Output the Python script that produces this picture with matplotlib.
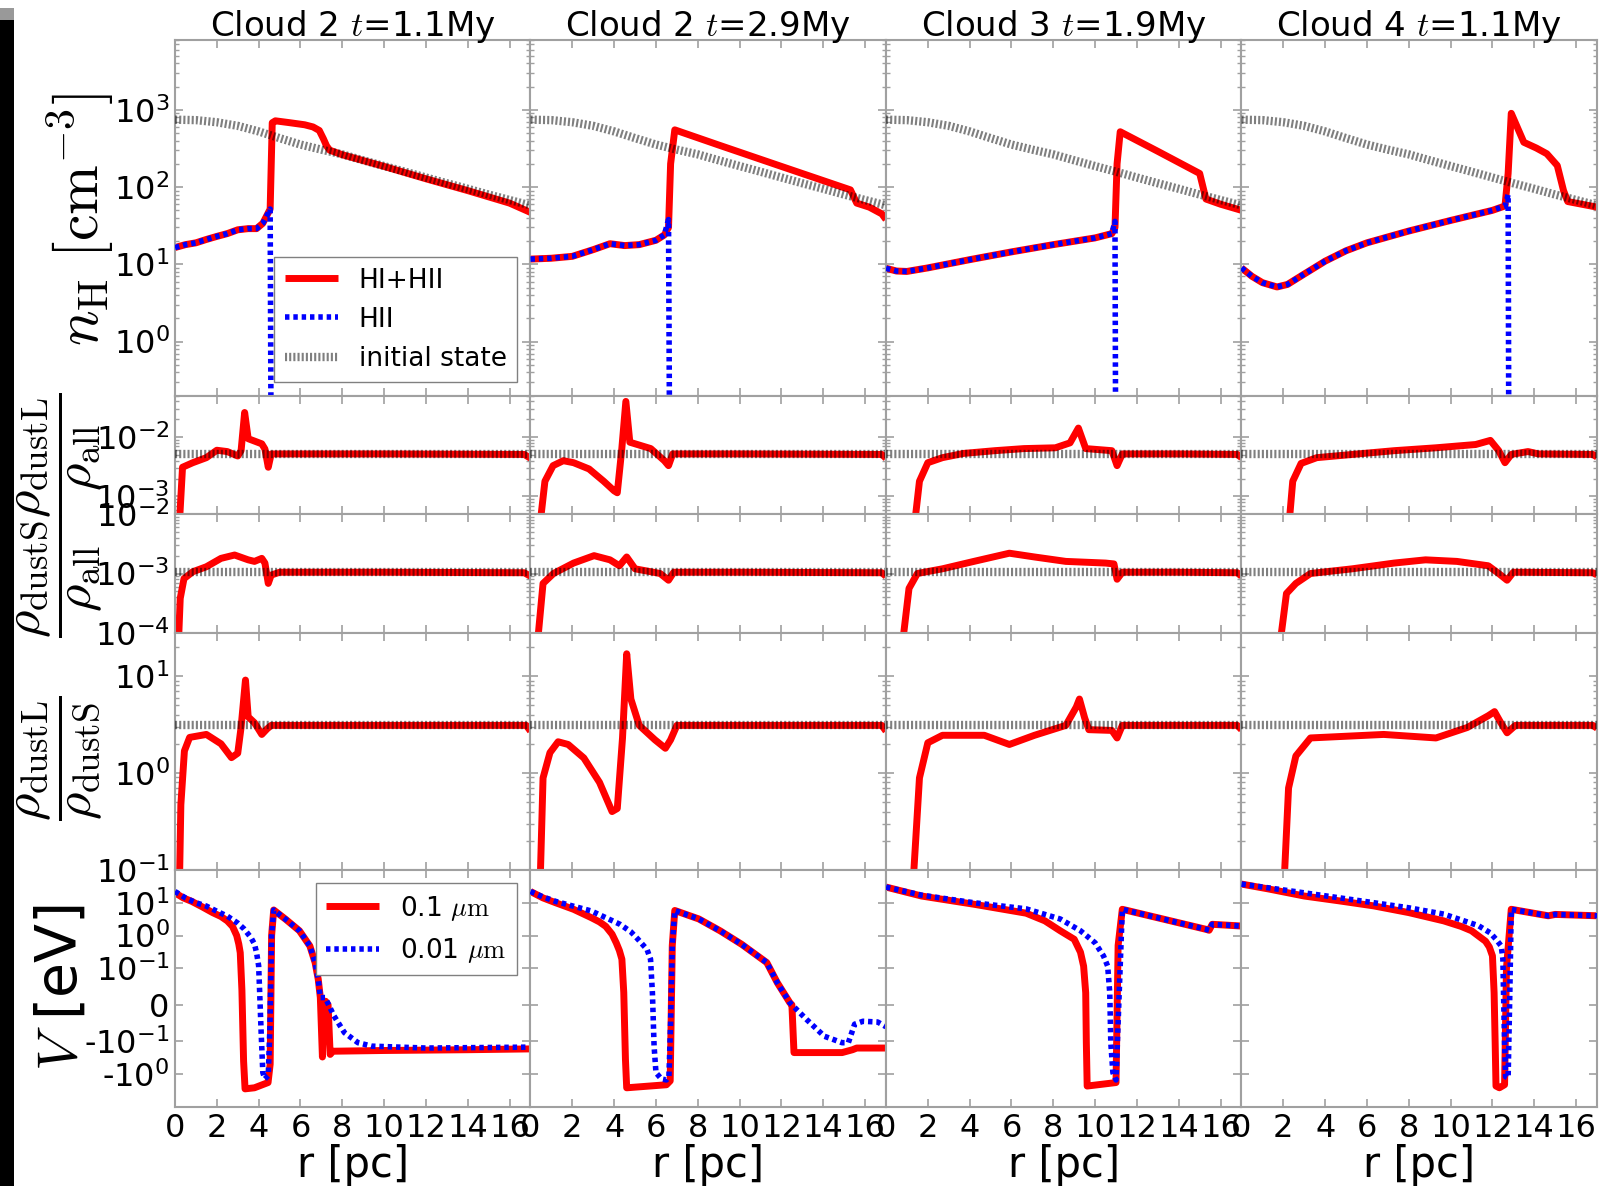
import numpy as np
import matplotlib
matplotlib.use('Agg')
import matplotlib.pyplot as plt
from matplotlib.ticker import FixedLocator, NullLocator, FuncFormatter, FixedFormatter, NullFormatter
from matplotlib.patches import Rectangle

# ---------------- data ----------------
titles = ['Cloud 2 $t$=1.1My', 'Cloud 2 $t$=2.9My', 'Cloud 3 $t$=1.9My', 'Cloud 4 $t$=1.1My']
x_ticks = [0, 2, 4, 6, 8, 10, 12, 14, 16]

# initial-state density profile (same for all panels)
r_init = [0, 1, 2, 3, 4, 5, 6, 7, 8, 9, 10, 11, 12, 13, 14, 15, 16, 17]
nH_init = [745, 735, 690, 620, 525, 430, 355, 305, 265, 222, 187, 158, 133, 112, 95, 80, 68, 58]
L_init = 5.2e-3
S_init = 1.05e-3
R_init = 3.1

# ---- column 1 : Cloud 2, t = 1.1 My
r_nH_c1 = [0, 0.5, 1.0, 1.5, 2.0, 2.5, 3.0, 3.5, 3.9, 4.2, 4.45, 4.55, 4.65, 4.8, 5.5, 6.2, 6.6, 6.9, 7.1, 7.25, 7.4, 8, 10, 12, 14, 16, 17]
nH_c1 = [16.5, 18, 19, 21, 23, 25, 28, 29, 29, 34, 46, 52, 680, 720, 680, 640, 600, 540, 420, 340, 300, 262, 185, 128, 90, 62, 47]
r_HII_c1 = [0, 0.5, 1.0, 1.5, 2.0, 2.5, 3.0, 3.5, 3.9, 4.2, 4.45, 4.55, 4.62, 17]
HII_c1 = [16.5, 18, 19, 21, 23, 25, 28, 29, 29, 34, 46, 52, 1e-3, 1e-3]
r_L_c1 = [0.2, 0.36, 0.85, 1.5, 2.0, 2.5, 3.0, 3.16, 3.33, 3.5, 4.15, 4.3, 4.46, 4.6, 5.0, 10, 16.7, 17]
L_c1 = [3e-4, 3.1e-3, 3.7e-3, 4.5e-3, 6.0e-3, 5.7e-3, 4.8e-3, 5.9e-3, 2.6e-2, 9.4e-3, 7.7e-3, 6.3e-3, 3.1e-3, 5.2e-3, 5.2e-3, 5.2e-3, 5.1e-3, 4.4e-3]
r_S_c1 = [0.15, 0.25, 0.43, 0.85, 1.5, 2.2, 2.85, 3.5, 3.8, 4.15, 4.3, 4.46, 4.6, 5.0, 10, 16.7, 17]
S_c1 = [5e-5, 3.8e-4, 8.2e-4, 1.07e-3, 1.3e-3, 1.8e-3, 2.05e-3, 1.7e-3, 1.6e-3, 1.8e-3, 1.5e-3, 6.8e-4, 9.4e-4, 1.05e-3, 1.05e-3, 1.03e-3, 9e-4]
r_R_c1 = [0.2, 0.28, 0.45, 0.7, 1.5, 2.2, 2.7, 3.0, 3.16, 3.37, 3.5, 3.8, 4.15, 4.4, 4.6, 10, 16.8, 17]
R_c1 = [0.05, 0.47, 1.69, 2.33, 2.5, 2.0, 1.44, 1.6, 2.96, 9.1, 3.8, 3.3, 2.5, 2.85, 3.1, 3.1, 3.1, 2.7]
r_Vl_c1 = [0, 0.4, 0.8, 1.3, 1.8, 2.2, 2.5, 2.75, 2.95, 3.05, 3.12, 3.2, 3.28, 3.35, 3.8, 4.45, 4.55, 4.62, 4.72, 5.3, 5.95, 6.45, 6.7, 6.85, 6.95, 7.05, 7.12, 7.2, 7.32, 7.42, 7.55, 10, 14, 17]
Vl_c1 = [20, 14, 11, 7.5, 5, 3.8, 2.8, 1.9, 1.0, 0.55, 0.3, 0.04, -0.4, -2.8, -2.6, -1.8, -0.5, 1.0, 6.0, 3.1, 1.4, 0.48, 0.15, 0.07, 0.02, -0.3, 0.0, 0.01, 0.0, -0.25, -0.2, -0.19, -0.18, -0.17]
r_Vs_c1 = [0, 0.5, 1.0, 1.5, 2.0, 2.5, 3.0, 3.3, 3.63, 3.8, 3.9, 4.0, 4.05, 4.12, 4.2, 4.3, 4.46, 4.54, 4.62, 4.72, 5.3, 5.95, 6.45, 6.7, 6.85, 6.95, 7.18, 7.6, 8.1, 8.75, 9.4, 12, 17]
Vs_c1 = [22, 14, 10, 7.9, 5.5, 3.9, 2.4, 1.6, 0.87, 0.55, 0.3, 0.12, 0.033, -0.076, -0.9, -1.4, -1.1, -0.06, 1.0, 6.0, 3.1, 1.4, 0.48, 0.15, 0.07, 0.02, 0.02, -0.03, -0.076, -0.11, -0.14, -0.16, -0.15]

# ---- column 2 : Cloud 2, t = 2.9 My
r_nH_c2 = [0, 1, 2, 3, 3.8, 4.5, 5.2, 6.0, 6.4, 6.6, 6.7, 6.9, 9, 12, 15.3, 15.6, 16.2, 16.8, 17]
nH_c2 = [11.7, 12, 12.7, 15.5, 18.5, 17.5, 18, 20.5, 24, 30, 200, 550, 350, 185, 92, 62, 55, 45, 38]
r_HII_c2 = [0, 1, 2, 3, 3.8, 4.5, 5.2, 6.0, 6.4, 6.6, 6.68, 17]
HII_c2 = [11.7, 12, 12.7, 15.5, 18.5, 17.5, 18, 20.5, 24, 38, 1e-3, 1e-3]
r_L_c2 = [0.44, 0.69, 1.08, 1.57, 2.06, 2.8, 3.5, 4.0, 4.15, 4.36, 4.56, 4.75, 5.75, 6.4, 6.6, 6.8, 10, 16.8, 17]
L_c2 = [3e-4, 1.8e-3, 3.3e-3, 4.0e-3, 3.7e-3, 2.9e-3, 1.8e-3, 1.24e-3, 1.15e-3, 6.0e-3, 4.0e-2, 8.2e-3, 6.4e-3, 4.0e-3, 3.3e-3, 5.2e-3, 5.2e-3, 5.1e-3, 4.4e-3]
r_S_c2 = [0.3, 0.6, 1.1, 2.06, 3.04, 3.8, 4.25, 4.6, 5.0, 6.2, 6.6, 6.85, 10, 16.8, 17]
S_c2 = [5e-5, 6.8e-4, 1.0e-3, 1.5e-3, 2.0e-3, 1.7e-3, 1.35e-3, 1.9e-3, 1.2e-3, 1.0e-3, 7.7e-4, 1.05e-3, 1.05e-3, 1.03e-3, 9e-4]
r_R_c2 = [0.44, 0.6, 0.93, 1.32, 1.8, 2.55, 3.3, 3.9, 4.15, 4.4, 4.6, 4.8, 5.2, 5.95, 6.45, 6.7, 7.0, 10, 16.8, 17]
R_c2 = [0.05, 0.89, 1.62, 2.1, 1.97, 1.43, 0.8, 0.4, 0.43, 2.3, 17, 5.8, 3.1, 2.2, 1.8, 2.2, 3.1, 3.1, 3.1, 2.7]
r_Vl_c2 = [0, 0.6, 1.2, 2.06, 2.91, 3.3, 3.6, 3.9, 4.1, 4.25, 4.37, 4.46, 4.54, 4.6, 6.5, 6.68, 6.78, 6.9, 8.05, 9.08, 10.1, 11.3, 11.8, 12.4, 12.5, 12.6, 14.9, 15.4, 15.6, 17]
Vl_c2 = [22, 14, 10, 6.3, 3.5, 2.6, 1.9, 1.1, 0.6, 0.35, 0.19, 0.034, -0.35, -2.6, -2.1, -1.6, 0.5, 5.8, 3.2, 1.38, 0.54, 0.15, 0.061, 0.006, 0.0, -0.22, -0.22, -0.18, -0.16, -0.16]
r_Vs_c2 = [0, 0.6, 1.2, 2.0, 2.91, 3.6, 4.28, 4.8, 5.14, 5.4, 5.57, 5.74, 5.83, 5.91, 6.0, 6.26, 6.5, 6.62, 6.7, 6.78, 6.9, 8.05, 9.08, 10.1, 11.3, 11.8, 12.4, 13.2, 14.05, 14.9, 15.2, 15.5, 15.9, 16.6, 17]
Vs_c2 = [22, 15, 11, 8, 5.6, 3.5, 2.2, 1.3, 0.77, 0.5, 0.38, 0.19, 0.033, -0.14, -0.9, -1.4, -1.5, -1.2, -0.05, 0.5, 5.8, 3.2, 1.38, 0.54, 0.15, 0.061, 0.006, -0.04, -0.086, -0.11, -0.11, -0.053, -0.045, -0.047, -0.06]

# ---- column 3 : Cloud 3, t = 1.9 My
r_nH_c3 = [0, 0.5, 1, 2, 4, 6, 8, 10, 10.8, 10.95, 11.05, 11.2, 13, 15.0, 15.3, 16, 17]
nH_c3 = [8.9, 8.2, 8.1, 9, 11.5, 14.5, 18, 22, 25, 30, 200, 520, 290, 150, 70, 60, 50]
r_HII_c3 = [0, 0.5, 1, 2, 4, 6, 8, 10, 10.8, 10.95, 11.0, 17]
HII_c3 = [8.9, 8.2, 8.1, 9, 11.5, 14.5, 18, 22, 25, 36, 1e-3, 1e-3]
r_L_c3 = [1.35, 1.6, 2.0, 2.7, 3.7, 5.2, 6.6, 8.1, 8.8, 9.2, 9.55, 10.8, 11.05, 11.3, 14, 16.8, 17]
L_c3 = [3e-4, 1.8e-3, 3.7e-3, 4.5e-3, 5.3e-3, 5.9e-3, 6.4e-3, 6.6e-3, 8e-3, 1.42e-2, 6.4e-3, 5.9e-3, 3.3e-3, 5.2e-3, 5.2e-3, 5.1e-3, 4.5e-3]
r_S_c3 = [0.75, 1.1, 1.5, 2.7, 4.2, 5.9, 7.1, 8.6, 10.5, 10.9, 11.05, 11.3, 14, 16.8, 17]
S_c3 = [5e-5, 5.6e-4, 1.0e-3, 1.2e-3, 1.6e-3, 2.2e-3, 1.9e-3, 1.6e-3, 1.5e-3, 1.45e-3, 8e-4, 1.05e-3, 1.05e-3, 1.03e-3, 9e-4]
r_R_c3 = [1.25, 1.6, 2.0, 2.7, 4.7, 5.9, 7.1, 8.6, 9.1, 9.25, 9.5, 9.7, 10.8, 11.05, 11.3, 14, 16.8, 17]
R_c3 = [0.05, 0.89, 2.05, 2.45, 2.45, 1.97, 2.45, 3.1, 4.8, 5.8, 3.7, 2.8, 2.75, 2.3, 3.1, 3.1, 3.1, 2.8]
r_Vl_c3 = [0, 1.7, 4.2, 6.7, 7.6, 8.33, 9.0, 9.3, 9.45, 9.55, 9.58, 9.62, 11.0, 11.1, 11.3, 15.3, 15.45, 15.6, 17]
Vl_c3 = [30, 16, 9, 4.8, 2.8, 1.4, 0.77, 0.31, 0.117, 0.033, -0.11, -2.3, -1.8, 0.5, 6.3, 1.55, 1.45, 2.2, 1.95]
r_Vs_c3 = [0, 1.7, 4.2, 6.7, 8.33, 9.3, 10.0, 10.4, 10.6, 10.7, 10.75, 10.85, 11.0, 11.15, 11.3, 15.3, 15.45, 15.6, 17]
Vs_c3 = [30, 17, 10, 6.5, 3.2, 1.4, 0.6, 0.24, 0.117, 0.033, -0.11, -0.9, -1.5, 0.03, 6.3, 1.55, 1.45, 2.2, 1.95]

# ---- column 4 : Cloud 4, t = 1.1 My
r_nH_c4 = [0, 0.5, 1, 1.7, 2.2, 3, 4, 5, 6, 8, 10, 12, 12.6, 12.75, 12.9, 13.5, 14.1, 14.6, 15.1, 15.4, 15.6, 17]
nH_c4 = [9, 7, 5.8, 5.1, 5.5, 7.5, 11, 15, 19, 27, 37, 50, 57, 150, 900, 380, 320, 270, 190, 90, 65, 55]
r_HII_c4 = [0, 0.5, 1, 1.7, 2.2, 3, 4, 5, 6, 8, 10, 12, 12.6, 12.75, 12.8, 17]
HII_c4 = [9, 7, 5.8, 5.1, 5.5, 7.5, 11, 15, 19, 27, 37, 50, 57, 80, 1e-3, 1e-3]
r_L_c4 = [2.26, 2.45, 2.85, 3.6, 5.3, 7.3, 9.3, 11.2, 11.9, 12.3, 12.6, 12.9, 13.7, 14.2, 16.8, 17]
L_c4 = [3e-4, 1.8e-3, 3.6e-3, 4.5e-3, 5.1e-3, 5.9e-3, 6.6e-3, 7.5e-3, 8.8e-3, 5.9e-3, 3.7e-3, 5.1e-3, 5.7e-3, 5.2e-3, 5.1e-3, 4.6e-3]
r_S_c4 = [1.8, 2.15, 2.6, 3.3, 5.3, 7.3, 8.8, 10.3, 11.8, 12.3, 12.7, 13.0, 16.8, 17]
S_c4 = [5e-5, 4.6e-4, 6.8e-4, 1.0e-3, 1.2e-3, 1.5e-3, 1.7e-3, 1.6e-3, 1.35e-3, 1.0e-3, 7.7e-4, 1.05e-3, 1.03e-3, 9.5e-4]
r_R_c4 = [2.0, 2.25, 2.6, 3.3, 6.8, 9.3, 10.8, 11.8, 12.1, 12.4, 12.7, 13.1, 16.8, 17]
R_c4 = [0.05, 0.7, 1.5, 2.3, 2.5, 2.3, 2.95, 3.9, 4.3, 3.3, 2.6, 3.1, 3.1, 2.9]
r_Vl_c4 = [0, 1.33, 3.0, 4.67, 6.33, 8.0, 9.67, 10.5, 11.0, 11.4, 11.67, 11.85, 12.0, 12.08, 12.13, 12.17, 12.33, 12.58, 12.67, 12.9, 14.67, 15.0, 17]
Vl_c4 = [37, 26, 16, 11.4, 8, 5, 2.8, 1.9, 1.4, 0.9, 0.67, 0.45, 0.24, 0.033, -0.11, -2.3, -2.6, -2.1, 0.1, 6.3, 4.0, 4.4, 4.0]
r_Vs_c4 = [0, 3.0, 6.33, 8.0, 9.67, 11.33, 11.9, 12.17, 12.42, 12.5, 12.53, 12.58, 12.63, 12.75, 12.83, 12.9, 14.67, 15.0, 17]
Vs_c4 = [37, 20, 10, 7, 4.5, 2.0, 1.2, 0.77, 0.48, 0.19, 0.033, -0.11, -1.2, -1.3, 0.03, 6.3, 4.0, 4.4, 4.0]

V_ticks = [10, 1, 0.1, 0, -0.1, -1]
V_ticklabels = ['10$^{1}$', '10$^{0}$', '10$^{-1}$', '0', '-10$^{-1}$', '-10$^{0}$']

# ---------------- style ----------------
GRAY = '#a0a0a0'
plt.rcParams.update({
    'font.family': 'DejaVu Sans',
    'mathtext.fontset': 'dejavusans',
    'axes.edgecolor': GRAY,
    'axes.linewidth': 1.5,
    'xtick.direction': 'in', 'ytick.direction': 'in',
    'xtick.top': True, 'ytick.right': True,
    'xtick.color': GRAY, 'ytick.color': GRAY,
    'xtick.labelcolor': 'black', 'ytick.labelcolor': 'black',
    'xtick.major.size': 6, 'ytick.major.size': 6,
    'xtick.minor.size': 3, 'ytick.minor.size': 3,
    'xtick.major.width': 1.2, 'ytick.major.width': 1.2,
    'xtick.minor.width': 1.0, 'ytick.minor.width': 1.0,
    'xtick.labelsize': 23, 'ytick.labelsize': 23,
    'xtick.major.pad': 4, 'ytick.major.pad': 4,
})

RED = dict(color='#ff0000', lw=5, solid_capstyle='butt', zorder=2)
BLUE = dict(color='#0000ff', lw=4, dashes=(0.8, 0.7), zorder=3)
INIT = dict(color='black', alpha=0.5, lw=6, dashes=(0.25, 0.25), zorder=4)

cols = [
    dict(nH=(r_nH_c1, nH_c1), HII=(r_HII_c1, HII_c1), L=(r_L_c1, L_c1), S=(r_S_c1, S_c1), R=(r_R_c1, R_c1), Vl=(r_Vl_c1, Vl_c1), Vs=(r_Vs_c1, Vs_c1)),
    dict(nH=(r_nH_c2, nH_c2), HII=(r_HII_c2, HII_c2), L=(r_L_c2, L_c2), S=(r_S_c2, S_c2), R=(r_R_c2, R_c2), Vl=(r_Vl_c2, Vl_c2), Vs=(r_Vs_c2, Vs_c2)),
    dict(nH=(r_nH_c3, nH_c3), HII=(r_HII_c3, HII_c3), L=(r_L_c3, L_c3), S=(r_S_c3, S_c3), R=(r_R_c3, R_c3), Vl=(r_Vl_c3, Vl_c3), Vs=(r_Vs_c3, Vs_c3)),
    dict(nH=(r_nH_c4, nH_c4), HII=(r_HII_c4, HII_c4), L=(r_L_c4, L_c4), S=(r_S_c4, S_c4), R=(r_R_c4, R_c4), Vl=(r_Vl_c4, Vl_c4), Vs=(r_Vs_c4, Vs_c4)),
]

W, H = 1606, 1186
fig = plt.figure(figsize=(W / 100, H / 100), dpi=100)
gs = fig.add_gridspec(5, 4, height_ratios=[3, 1, 1, 2, 2],
                      left=175 / W, right=1597 / W, top=1 - 40 / H, bottom=1 - 1107 / H,
                      hspace=0, wspace=0)

dec_fmt = FuncFormatter(lambda v, p: '10$^{%d}$' % int(round(np.log10(v))))
log_ylims = {0: (0.2, 8000), 1: (5e-4, 5e-2), 2: (1e-4, 1e-2), 3: (0.1, 28)}

for c, d in enumerate(cols):
    axes = [fig.add_subplot(gs[row, c]) for row in range(5)]
    # row 0 : density
    ax = axes[0]
    ax.plot(*d['nH'], **RED, label='HI+HII')
    ax.plot(*d['HII'], **BLUE, label='HII')
    ax.plot(r_init, nH_init, **INIT, label='initial state')
    ax.set_title(titles[c], fontsize=24.5, y=1.0, pad=3, math_fontfamily='cm')
    # rows 1-3 : dust ratios
    for row, key, init in [(1, 'L', L_init), (2, 'S', S_init), (3, 'R', R_init)]:
        ax = axes[row]
        ax.plot(*d[key], **RED)
        ax.plot([0, 17], [init, init], **INIT)
    for row in range(4):
        ax = axes[row]
        ax.set_yscale('log')
        ax.set_ylim(*log_ylims[row])
        ax.yaxis.set_major_formatter(dec_fmt)
        ax.yaxis.set_minor_formatter(NullFormatter())
    # row 4 : potential
    ax = axes[4]
    ax.plot(*d['Vl'], **RED, label=r'0.1 $\mu{\rm m}$')
    ax.plot(*d['Vs'], **BLUE, label=r'0.01 $\mu{\rm m}$')
    ax.set_yscale('symlog', linthresh=0.1, linscale=1)
    ax.set_ylim(-10, 100)
    ax.yaxis.set_major_locator(FixedLocator(V_ticks))
    ax.yaxis.set_major_formatter(FixedFormatter(V_ticklabels))
    ax.yaxis.set_minor_locator(NullLocator())
    ax.set_xlabel('r [pc]', fontsize=30, labelpad=0)

    for row, ax in enumerate(axes):
        ax.set_xlim(0, 17)
        ax.xaxis.set_major_locator(FixedLocator(x_ticks))
        ax.xaxis.set_minor_locator(NullLocator())
        ax.tick_params(labelbottom=(row == 4), labelleft=(c == 0))
        ax.tick_params(which='both', top=True, right=True)

    if c == 0:
        leg = axes[0].legend(loc='lower right', fontsize=19, fancybox=False,
                             edgecolor='#808080', framealpha=1, handlelength=2.0,
                             borderaxespad=0.5)
        leg.get_frame().set_linewidth(1.0)
        leg2 = axes[4].legend(loc='upper right', fontsize=19, fancybox=False,
                              edgecolor='#808080', framealpha=1, handlelength=2.0,
                              borderaxespad=0.5)
        leg2.get_frame().set_linewidth(1.0)
        for t in leg2.get_texts():
            t.set_math_fontfamily('cm')

# y labels
def ylab(x, y, s, size):
    fig.text(x / W, 1 - y / H, s, rotation=90, ha='center', va='center',
             fontsize=size, math_fontfamily='cm')

ylab(80, 220, r'$n_{\rm H}\ [\rm cm^{-3}]$', 43)
ylab(60, 455, r'$\dfrac{\rho_{\rm dustL}}{\rho_{\rm all}}$', 38)
ylab(60, 576, r'$\dfrac{\rho_{\rm dustS}}{\rho_{\rm all}}$', 38)
ylab(60, 758, r'$\dfrac{\rho_{\rm dustL}}{\rho_{\rm dustS}}$', 38)
ylab(61, 988, r'$V$ [eV]', 41)

# screenshot edge strip at the far left
fig.patches.append(Rectangle((0, 0), 14 / W, 1 - 20 / H, transform=fig.transFigure,
                             facecolor='black', edgecolor='none', zorder=-1))
fig.patches.append(Rectangle((0, 1 - 20 / H), 14 / W, 12 / H, transform=fig.transFigure,
                             facecolor='#999999', edgecolor='none', zorder=-1))

fig.savefig('out.png', dpi=100)
